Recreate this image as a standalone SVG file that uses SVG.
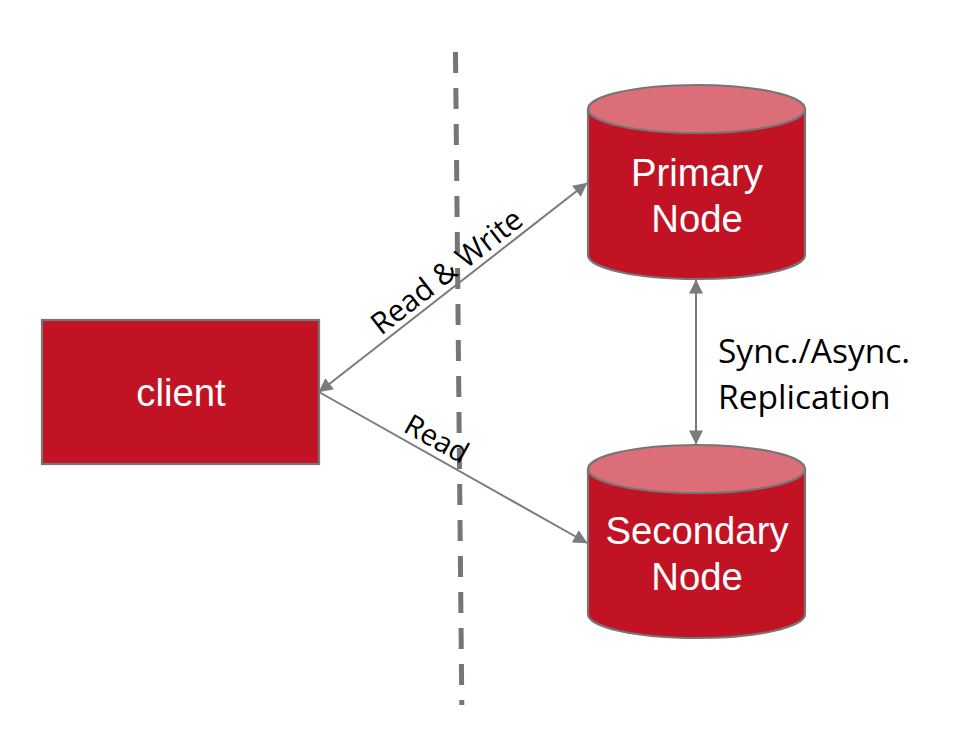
<svg xmlns="http://www.w3.org/2000/svg" width="956" height="750" viewBox="0 0 956 750">
<style>
.shape{fill:#c21325;stroke:#767676;stroke-width:2.200}
.top{fill:#dc6e79;stroke:#767676;stroke-width:2.200}
.n{font-family:"Liberation Sans",Arial,sans-serif;font-size:38.300px;fill:#fff;text-anchor:middle}
.l{font-family:"Open Sans","Noto Sans",sans-serif;fill:#000}
.c{stroke:#7b7b7b;stroke-width:2;fill:none;marker-end:url(#a);marker-start:url(#a)}
</style>
<defs>
<marker id="a" viewBox="0 0 12 12" refX="11.5" refY="6" markerWidth="15" markerHeight="14" markerUnits="userSpaceOnUse" orient="auto-start-reverse"><path d="M0 0L12 6L0 12Z" fill="#7b7b7b"/></marker>
</defs>
<rect width="956" height="750" fill="#fff"/>
<line x1="455.500" y1="52" x2="461.800" y2="705" stroke="#767676" stroke-width="5" stroke-dasharray="21 15"/>
<g id="connectors">
<line class="c" x1="319" y1="392" x2="587" y2="183"/>
<line x1="319" y1="392" x2="587" y2="543" stroke="#7b7b7b" stroke-width="2" marker-end="url(#a)"/>
<line class="c" x1="696" y1="280" x2="696" y2="444"/>
</g>
<g id="client"><rect class="shape" x="42" y="320" width="277" height="144"/><text class="n" x="181" y="406">client</text></g>
<g id="primary"><path class="shape" d="M588 109V255A108.500 24 0 0 0 805 255V109Z"/><ellipse class="top" cx="696.500" cy="109" rx="108.500" ry="24"/><text class="n" x="697" y="186">Primary</text><text class="n" x="697" y="232">Node</text></g>
<g id="secondary"><path class="shape" d="M588 469V614A108.500 24 0 0 0 805 614V469Z"/><ellipse class="top" cx="696.500" cy="469" rx="108.500" ry="24"/><text class="n" x="697" y="544">Secondary</text><text class="n" x="697" y="590">Node</text></g>
<g id="labels">
<text class="l" font-size="30" transform="translate(381 336) rotate(-38)">Read &amp; Write</text>
<text class="l" font-size="29" transform="translate(402 431) rotate(29)">Read</text>
<text class="l" font-size="33.500" x="718" y="363">Sync./Async.</text>
<text class="l" font-size="33.500" x="718" y="409">Replication</text>
</g>
</svg>
